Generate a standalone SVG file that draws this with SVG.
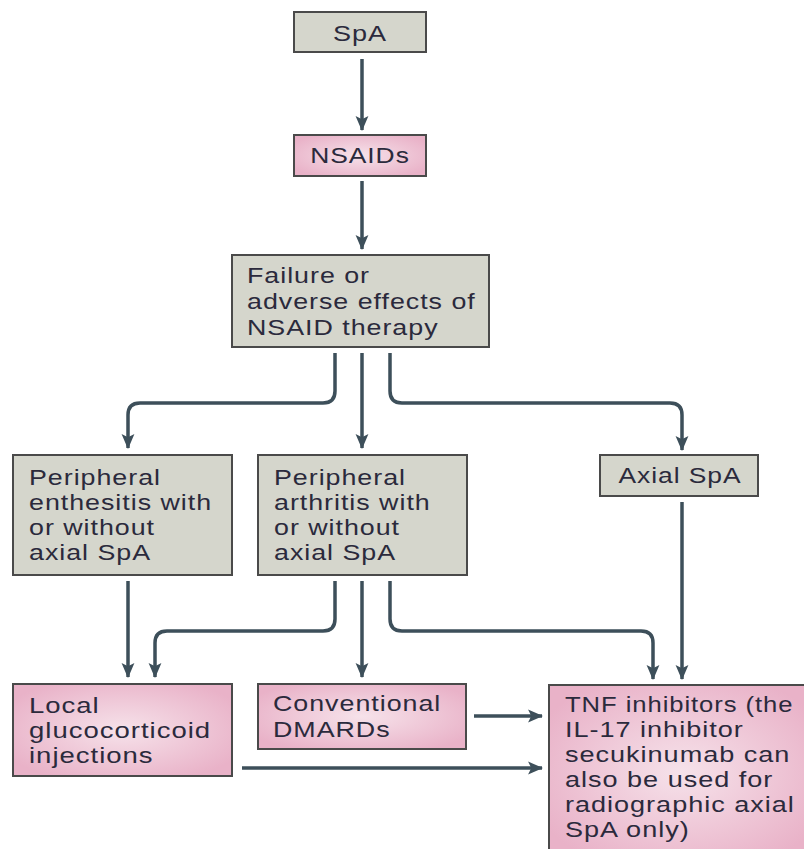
<svg xmlns="http://www.w3.org/2000/svg" width="804" height="849" viewBox="0 0 804 849">
<style>
.g{fill:#d5d6cc;stroke:#4a4a4a;stroke-width:2}
.p{fill:url(#pk);stroke:#4a4a4a;stroke-width:2}
.t{font-family:"Liberation Sans",Arial,sans-serif;font-size:22px;letter-spacing:0.8px;fill:#2b2a3c}
.m{text-anchor:middle}
.c{fill:none;stroke:#3d4f5a;stroke-width:3.5;marker-end:url(#ah)}
</style>
<defs>
<radialGradient id="pk" cx="0.5" cy="0.5" r="0.6">
<stop offset="0" stop-color="#f6e2ea"/>
<stop offset="1" stop-color="#e9b2c8"/>
</radialGradient>
<marker id="ah" viewBox="0 0 14 14" refX="13" refY="7" markerWidth="15" markerHeight="15" markerUnits="userSpaceOnUse" orient="auto">
<path d="M0,1 L14,7 L0,13 L3,7 z" fill="#3d4f5a"/>
</marker>
</defs>
<g id="spa"><rect class="g" x="294" y="12" width="132" height="40"/><g class="t m" transform="translate(360,0) scale(1.23,1)"><text x="0" y="41">SpA</text></g></g>
<g id="nsaids"><rect class="p" x="294" y="135" width="132" height="41"/><g class="t m" transform="translate(360,0) scale(1.2,1)"><text x="0" y="163">NSAIDs</text></g></g>
<g id="failure"><rect class="g" x="232" y="255" width="257" height="92"/><g class="t" transform="translate(247,0) scale(1.22,1)"><text x="0" y="283">Failure or</text><text x="0" y="309">adverse effects of</text><text x="0" y="335">NSAID therapy</text></g></g>
<g id="enthesitis"><rect class="g" x="13" y="455" width="219" height="120"/><g class="t" transform="translate(29,0) scale(1.22,1)"><text x="0" y="485">Peripheral</text><text x="0" y="510">enthesitis with</text><text x="0" y="535">or without</text><text x="0" y="560">axial SpA</text></g></g>
<g id="arthritis"><rect class="g" x="258" y="455" width="209" height="120"/><g class="t" transform="translate(274,0) scale(1.22,1)"><text x="0" y="485">Peripheral</text><text x="0" y="510">arthritis with</text><text x="0" y="535">or without</text><text x="0" y="560">axial SpA</text></g></g>
<g id="axial"><rect class="g" x="600" y="455" width="158" height="41"/><g class="t m" transform="translate(680,0) scale(1.2,1)"><text x="0" y="483">Axial SpA</text></g></g>
<g id="local"><rect class="p" x="13" y="684" width="219" height="92"/><g class="t" transform="translate(29,0) scale(1.25,1)"><text x="0" y="713">Local</text><text x="0" y="738">glucocorticoid</text><text x="0" y="763">injections</text></g></g>
<g id="dmards"><rect class="p" x="258" y="684" width="208" height="65"/><g class="t" transform="translate(273,0) scale(1.22,1)"><text x="0" y="711">Conventional</text><text x="0" y="737">DMARDs</text></g></g>
<g id="tnf"><rect class="p" x="549" y="685" width="265" height="175"/><g class="t" transform="translate(565,0) scale(1.165,1)"><text x="0" y="712">TNF inhibitors (the</text></g><g class="t" transform="translate(565,0) scale(1.23,1)"><text x="0" y="737">IL-17 inhibitor</text><text x="0" y="762">secukinumab can</text><text x="0" y="787">also be used for</text><text x="0" y="812">radiographic axial</text><text x="0" y="837">SpA only)</text></g></g>
<g id="connectors">
<path class="c" d="M362,59 V130"/>
<path class="c" d="M362,181 V249"/>
<path class="c" d="M335,353 V391 Q335,403 323,403 H140 Q128,403 128,415 V448"/>
<path class="c" d="M362,353 V448"/>
<path class="c" d="M390,353 V391 Q390,403 402,403 H670 Q682,403 682,415 V450"/>
<path class="c" d="M128,581 V677"/>
<path class="c" d="M335,581 V619 Q335,631 323,631 H167 Q155,631 155,643 V677"/>
<path class="c" d="M362,581 V677"/>
<path class="c" d="M390,581 V619 Q390,631 402,631 H641 Q653,631 653,643 V679"/>
<path class="c" d="M682,502 V679"/>
<path class="c" d="M474,716 H542"/>
<path class="c" d="M242,768 H542"/>
</g>
</svg>
